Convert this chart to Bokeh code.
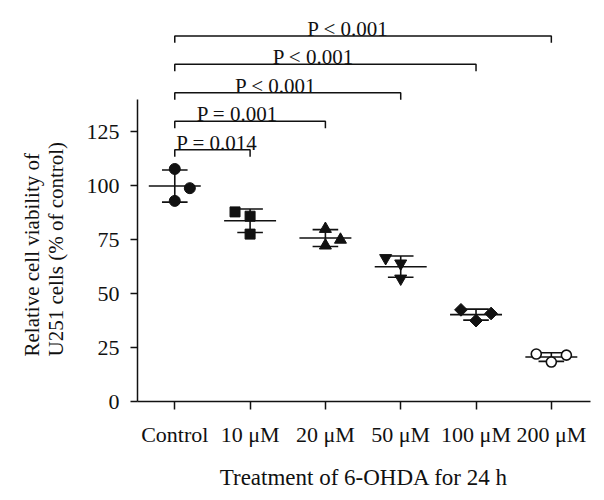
import numpy as np
from bokeh.plotting import figure
from bokeh.models import FixedTicker, Range1d, Title
from bokeh.core.properties import value
from bokeh.embed import file_html
from bokeh.resources import INLINE

# ---------------- data ----------------
groups = ["Control", "10 μM", "20 μM", "50 μM", "100 μM", "200 μM"]
control = [107.8, 98.9, 93.0]
um10 = [87.9, 85.9, 77.6]
um20 = [80.0, 75.0, 72.3]
um50 = [66.5, 64.0, 57.0]
um100 = [42.5, 40.8, 37.5]
um200 = [22.0, 21.5, 18.3]
group_values = [control, um10, um20, um50, um100, um200]
x_jitter = [[0, 0.2, 0], [-0.2, 0, 0], [0, 0.2, 0],
            [-0.2, 0, 0], [-0.2, 0.2, 0], [-0.2, 0.2, 0]]
compare_to = [1, 2, 3, 4, 5]
p_labels = ["P = 0.014", "P = 0.001", "P < 0.001", "P < 0.001", "P < 0.001"]
y_ticks = [0, 25, 50, 75, 100, 125]
y_title = "Relative cell viability of\nU251 cells (% of control)"
x_title = "Treatment of 6-OHDA for 24 h"

# ---------------- style ----------------
FONT = "Liberation Serif"
BLACK = "#111111"
markers = ["circle", "square", "triangle", "inverted_triangle", "square", "circle"]
marker_size = [11, 10, 12, 12, 9, 10]
marker_angle = [0, 0, 0, 0, np.pi / 4, 0]
marker_fill = [BLACK, BLACK, BLACK, BLACK, BLACK, "white"]

p = figure(width=596, height=492, output_backend="svg", toolbar_location=None,
           x_range=Range1d(-0.495, 5.52), y_range=Range1d(0, 182.2),
           min_border_left=137, min_border_right=6, min_border_top=8,
           min_border_bottom=88)
p.outline_line_color = None
p.grid.visible = False
p.background_fill_color = "white"
p.border_fill_color = "white"

for i, vals in enumerate(group_values):
    m = float(np.mean(vals))
    sd = float(np.std(vals, ddof=1))
    p.line([i - 0.345, i + 0.345], [m, m], line_color=BLACK, line_width=1.6)
    p.line([i, i], [m - sd, m + sd], line_color=BLACK, line_width=1.6)
    for yy in (m - sd, m + sd):
        p.line([i - 0.17, i + 0.17], [yy, yy], line_color=BLACK, line_width=1.6)

for i, vals in enumerate(group_values):
    xs = [i + j for j in x_jitter[i]]
    p.scatter(xs, vals, marker=markers[i], size=marker_size[i],
              angle=marker_angle[i], fill_color=marker_fill[i],
              line_color=BLACK, line_width=1.6 if marker_fill[i] == "white" else 1)

base_h, step_h, drop = 116.7, 13.2, 3.2
label_x = [0.56, 0.83, 1.34, 1.84, 2.30]
hs = []
for k, j in enumerate(compare_to):
    h = base_h + step_h * k
    hs.append(h)
    p.line([0, 0, j, j], [h - drop, h, h, h - drop], line_color=BLACK, line_width=1.5)
p.text(x=label_x, y=hs, text=p_labels, text_align="center",
       text_baseline="alphabetic", y_offset=-7, text_color=BLACK,
       text_font=value(FONT), text_font_size="21px")

for ax in (p.xaxis[0], p.yaxis[0]):
    ax.axis_line_width = 1.5
    ax.axis_line_color = BLACK
    ax.major_tick_line_width = 1.5
    ax.major_tick_line_color = BLACK
    ax.major_tick_out = 8
    ax.major_tick_in = 0
    ax.minor_tick_out = 0
    ax.minor_tick_in = 0
    ax.major_label_text_font = FONT
    ax.major_label_text_color = BLACK
    ax.axis_label_text_font = FONT
    ax.axis_label_text_font_style = "normal"
    ax.axis_label_text_color = BLACK

p.xaxis.ticker = FixedTicker(ticks=list(range(len(groups))))
p.xaxis.major_label_overrides = {i: g for i, g in enumerate(groups)}
p.xaxis.major_label_text_font_size = "22px"
p.xaxis.major_label_standoff = 12
p.xaxis.axis_label = x_title
p.xaxis.axis_label_text_font_size = "23px"
p.xaxis.axis_label_standoff = 15

p.yaxis.ticker = FixedTicker(ticks=y_ticks)
p.yaxis.bounds = (0, 140)
p.yaxis.major_tick_out = 7
p.yaxis.major_label_standoff = 11
p.yaxis.major_label_text_font_size = "22px"

# y title centred on the drawn axis (0..140) rather than on the whole frame
p.add_layout(Title(text=y_title, align="left", offset=45, standoff=32,
                   text_font=FONT, text_font_size="21px",
                   text_font_style="normal", text_color=BLACK), "left")

open("out.html", "w").write(file_html(p, INLINE))
